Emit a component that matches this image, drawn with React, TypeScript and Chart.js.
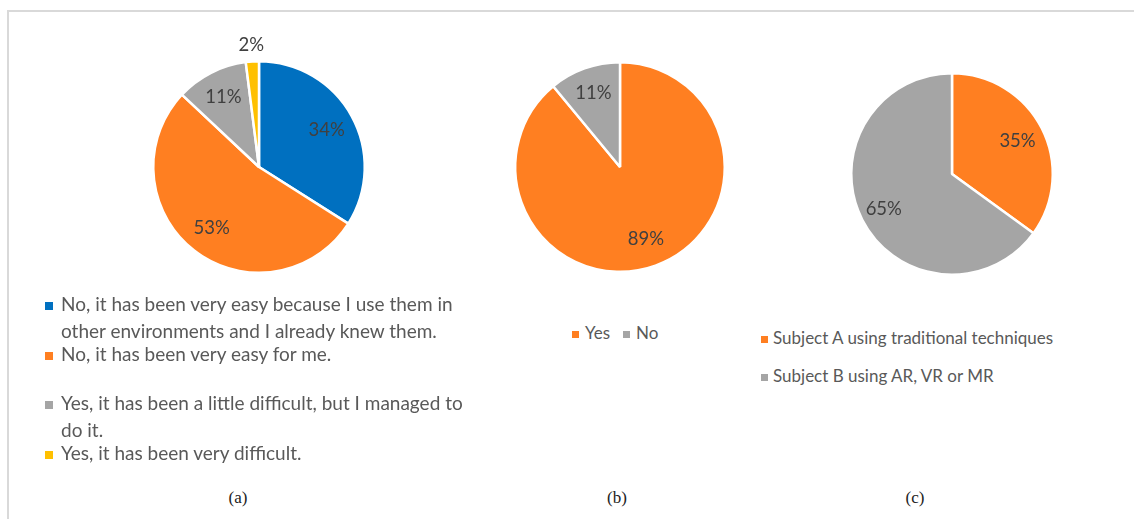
import React, { useEffect, useRef } from "react";
import { Chart, registerables } from "chart.js";

Chart.register(...registerables);

// ---- Data ----
const labelsA = [
  "No, it has been very easy because I use them in other environments and I already knew them.",
  "No, it has been very easy for me.",
  "Yes, it has been a little difficult, but I managed to do it.",
  "Yes, it has been very difficult.",
];
const valuesA = [34, 53, 11, 2];
const colorsA = ["#0070C0", "#FF7F21", "#A5A5A5", "#FFC000"];

const labelsB = ["Yes", "No"];
const valuesB = [89, 11];
const colorsB = ["#FF7F21", "#A5A5A5"];

const labelsC = ["Subject A using traditional techniques", "Subject B using AR, VR or MR"];
const valuesC = [35, 65];
const colorsC = ["#FF7F21", "#A5A5A5"];

const captions = ["(a)", "(b)", "(c)"];

const LABEL_FONT = "Lato, 'Open Sans', sans-serif";
const LEGEND_COLOR = "#595959";

const pieLabelsPlugin = {
  id: "pieLabels",
  afterDatasetsDraw(chart: any, _args: any, opts: any) {
    const ctx = chart.ctx;
    const meta = chart.getDatasetMeta(0);
    const data = chart.data.datasets[0].data;
    const factors: number[] = opts.factors || [];
    ctx.save();
    ctx.font = `${opts.size || 18}px ${LABEL_FONT}`;
    ctx.fillStyle = "#404040";
    ctx.textAlign = "center";
    ctx.textBaseline = "middle";
    meta.data.forEach((arc: any, i: number) => {
      const p = arc.getProps(["x", "y", "startAngle", "endAngle", "outerRadius"], true);
      const mid = (p.startAngle + p.endAngle) / 2;
      const f = factors[i] ?? 0.74;
      const x = p.x + Math.cos(mid) * p.outerRadius * f;
      const y = p.y + Math.sin(mid) * p.outerRadius * f;
      ctx.fillText(`${data[i]}%`, x, y);
    });
    ctx.restore();
  },
};

type PieProps = {
  labels: string[];
  values: number[];
  colors: string[];
  cx: number;
  cy: number;
  r: number;
  factors: number[];
};

function Pie({ labels, values, colors, cx, cy, r, factors }: PieProps) {
  const ref = useRef<HTMLCanvasElement>(null);
  const pad = 42;
  const size = 2 * (r + pad);
  useEffect(() => {
    if (!ref.current) return;
    const chart = new Chart(ref.current, {
      type: "pie",
      data: {
        labels,
        datasets: [
          {
            data: values,
            backgroundColor: colors,
            borderColor: "#ffffff",
            borderWidth: 2.5,
          },
        ],
      },
      options: {
        responsive: false,
        animation: false,
        layout: { padding: pad },
        plugins: {
          legend: { display: false },
          tooltip: { enabled: false },
          pieLabels: { factors, size: 18.5 },
        } as any,
      },
      plugins: [pieLabelsPlugin],
    });
    return () => chart.destroy();
  }, []);
  return (
    <canvas
      ref={ref}
      width={size}
      height={size}
      style={{ position: "absolute", left: cx - size / 2, top: cy - size / 2, width: size, height: size }}
    />
  );
}

function Sq({ color, gap, size }: { color: string; gap: number; size: number }) {
  return (
    <span
      style={{
        display: "inline-block",
        width: size,
        height: size,
        background: color,
        marginRight: gap,
        position: "relative",
        top: -1,
      }}
    />
  );
}

const legendText: React.CSSProperties = {
  position: "absolute",
  fontFamily: LABEL_FONT,
  fontSize: 17,
  color: LEGEND_COLOR,
  whiteSpace: "nowrap",
  lineHeight: "27px",
};

export default function App() {
  // legend A split into rendered lines (text from labelsA)
  const aLines: { text: string; y: number; sq?: string }[] = [
    { text: "No, it has been very easy because I use them in", y: 303, sq: colorsA[0] },
    { text: labelsA[0].replace("No, it has been very easy because I use them in ", ""), y: 330 },
    { text: labelsA[1], y: 353, sq: colorsA[1] },
    { text: "Yes, it has been a little difficult, but I managed to", y: 402, sq: colorsA[2] },
    { text: "do it.", y: 429 },
    { text: labelsA[3], y: 452, sq: colorsA[3] },
  ];
  return (
    <div
      style={{
        position: "absolute",
        left: 0,
        top: 0,
        width: 1134,
        height: 519,
        background: "#fff",
        overflow: "hidden",
      }}
    >
      <div
        style={{
          position: "absolute",
          left: 7,
          top: 10,
          width: 1140,
          height: 520,
          borderLeft: "2px solid #d9d9d9",
          borderTop: "2px solid #d9d9d9",
        }}
      />
      <Pie labels={labelsA} values={valuesA} colors={colorsA} cx={259} cy={167} r={107} factors={[0.73, 0.73, 0.74, 1.16]} />
      <Pie labels={labelsB} values={valuesB} colors={colorsB} cx={620} cy={167} r={106} factors={[0.73, 0.75]} />
      <Pie labels={labelsC} values={valuesC} colors={colorsC} cx={952} cy={174} r={102} factors={[0.73, 0.76]} />

      {aLines.map((l, i) => (
        <div key={i} style={{ ...legendText, fontSize: 19, left: l.sq ? 45 : 61, top: l.y - 13.5 }}>
          {l.sq && <Sq color={l.sq} gap={8} size={8} />}
          {l.text}
        </div>
      ))}

      <div style={{ ...legendText, left: 572, top: 332 - 13.5 }}>
        <Sq color={colorsB[0]} gap={6} size={7} />
        {labelsB[0]}
        <span style={{ display: "inline-block", width: 13 }} />
        <Sq color={colorsB[1]} gap={6} size={7} />
        {labelsB[1]}
      </div>

      <div style={{ ...legendText, left: 761, top: 337 - 13.5 }}>
        <Sq color={colorsC[0]} gap={5} size={7} />
        {labelsC[0]}
      </div>
      <div style={{ ...legendText, left: 761, top: 375 - 13.5 }}>
        <Sq color={colorsC[1]} gap={5} size={7} />
        {labelsC[1]}
      </div>

      {[238, 617, 915].map((x, i) => (
        <div
          key={i}
          style={{
            position: "absolute",
            left: x - 30,
            width: 60,
            top: 488,
            textAlign: "center",
            fontFamily: "'Liberation Serif', 'DejaVu Serif', serif",
            fontSize: 17,
            color: "#222",
          }}
        >
          {captions[i]}
        </div>
      ))}
    </div>
  );
}
